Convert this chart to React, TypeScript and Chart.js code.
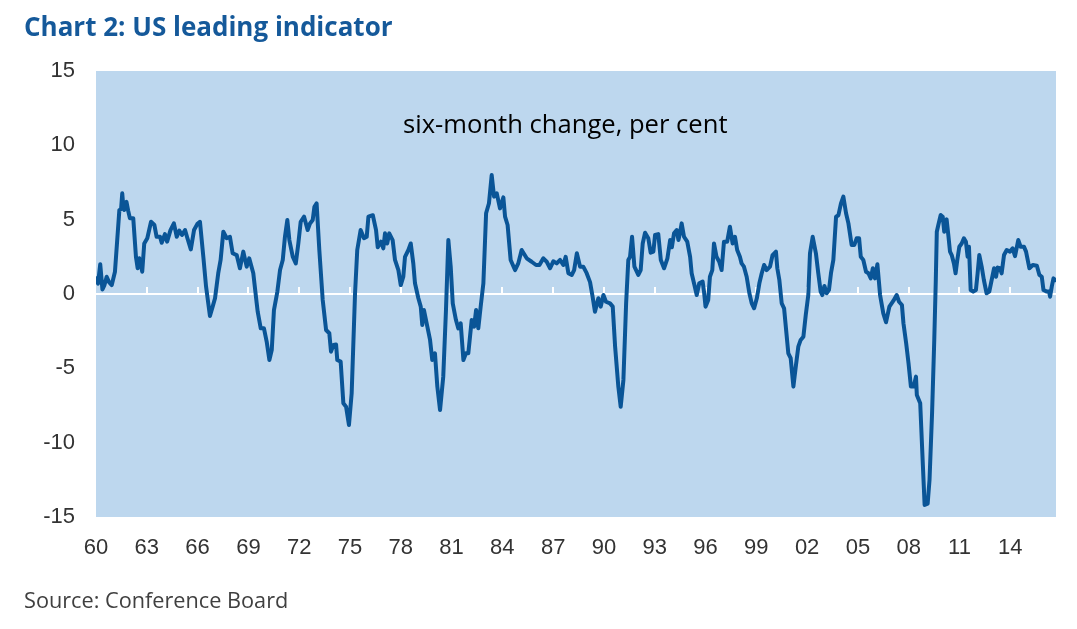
import React, { useEffect, useRef } from "react";
import { Chart, registerables } from "chart.js";

Chart.register(...registerables);

// ---- Data ----
const titleText = "Chart 2: US leading indicator";
const sourceText = "Source: Conference Board";
const noteText = "six-month change, per cent";

const tickYears = [1960, 1963, 1966, 1969, 1972, 1975, 1978, 1981, 1984, 1987, 1990, 1993, 1996, 1999, 2002, 2005, 2008, 2011, 2014];
const yTicks = [-15, -10, -5, 0, 5, 10, 15];

const dates = [
  1960.0, 1960.12, 1960.25, 1960.38, 1960.5, 1960.63, 1960.77, 1960.93, 1961.12, 1961.38, 1961.48, 1961.55, 1961.62, 1961.67, 1961.8, 1961.9,
  1962.0, 1962.2, 1962.36, 1962.46, 1962.56, 1962.66, 1962.73, 1962.85, 1963.03, 1963.25, 1963.45, 1963.58, 1963.78, 1963.88, 1964.07, 1964.2,
  1964.4, 1964.6, 1964.77, 1964.92, 1965.08, 1965.26, 1965.4, 1965.6, 1965.79, 1965.98, 1966.14, 1966.34, 1966.5, 1966.73, 1966.89, 1967.03,
  1967.22, 1967.36, 1967.52, 1967.72, 1967.91, 1968.07, 1968.31, 1968.5, 1968.7, 1968.9, 1969.05, 1969.29, 1969.49, 1969.55, 1969.73, 1969.92,
  1970.08, 1970.24, 1970.38, 1970.51, 1970.71, 1970.87, 1971.03, 1971.16, 1971.3, 1971.42, 1971.62, 1971.8, 1971.95, 1972.09, 1972.29, 1972.5,
  1972.64, 1972.8, 1972.9, 1973.03, 1973.19, 1973.39, 1973.59, 1973.78, 1973.88, 1974.02, 1974.18, 1974.25, 1974.45, 1974.61, 1974.77, 1974.94,
  1975.1, 1975.3, 1975.43, 1975.63, 1975.83, 1975.99, 1976.09, 1976.35, 1976.54, 1976.64, 1976.83, 1976.97, 1977.07, 1977.2, 1977.32, 1977.52,
  1977.66, 1977.86, 1978.0, 1978.15, 1978.25, 1978.45, 1978.59, 1978.74, 1978.84, 1979.04, 1979.18, 1979.27, 1979.37, 1979.57, 1979.73, 1979.86,
  1980.02, 1980.16, 1980.32, 1980.51, 1980.67, 1980.81, 1980.95, 1981.07, 1981.26, 1981.4, 1981.54, 1981.7, 1981.85, 1981.99, 1982.19, 1982.33,
  1982.45, 1982.58, 1982.72, 1982.88, 1983.04, 1983.21, 1983.37, 1983.51, 1983.67, 1983.86, 1984.06, 1984.16, 1984.31, 1984.49, 1984.75, 1984.94,
  1985.14, 1985.44, 1985.73, 1985.99, 1986.19, 1986.42, 1986.62, 1986.82, 1987.01, 1987.21, 1987.41, 1987.6, 1987.74, 1987.9, 1988.1, 1988.24,
  1988.4, 1988.59, 1988.78, 1988.98, 1989.18, 1989.33, 1989.47, 1989.67, 1989.81, 1989.97, 1990.12, 1990.36, 1990.52, 1990.66, 1990.85, 1990.99,
  1991.15, 1991.31, 1991.44, 1991.54, 1991.66, 1991.8, 1992.03, 1992.17, 1992.29, 1992.43, 1992.62, 1992.76, 1992.92, 1993.02, 1993.21, 1993.36,
  1993.55, 1993.75, 1993.91, 1994.01, 1994.14, 1994.3, 1994.4, 1994.49, 1994.59, 1994.73, 1994.92, 1995.09, 1995.18, 1995.32, 1995.48, 1995.63,
  1995.83, 1995.91, 1996.0, 1996.16, 1996.26, 1996.4, 1996.5, 1996.65, 1996.81, 1996.95, 1997.09, 1997.28, 1997.44, 1997.6, 1997.74, 1997.87,
  1998.03, 1998.13, 1998.27, 1998.43, 1998.59, 1998.73, 1998.87, 1999.03, 1999.18, 1999.32, 1999.46, 1999.61, 1999.81, 1999.96, 2000.16, 2000.24,
  2000.36, 2000.5, 2000.64, 2000.76, 2000.89, 2001.03, 2001.19, 2001.33, 2001.48, 2001.62, 2001.78, 2001.92, 2002.07, 2002.17, 2002.33, 2002.52,
  2002.66, 2002.8, 2002.9, 2003.02, 2003.16, 2003.29, 2003.41, 2003.55, 2003.71, 2003.85, 2004.0, 2004.14, 2004.3, 2004.44, 2004.63, 2004.79,
  2004.93, 2005.07, 2005.17, 2005.32, 2005.48, 2005.62, 2005.76, 2005.88, 2006.01, 2006.15, 2006.31, 2006.5, 2006.66, 2006.86, 2007.1, 2007.29,
  2007.43, 2007.6, 2007.69, 2007.85, 2007.99, 2008.13, 2008.29, 2008.43, 2008.48, 2008.68, 2008.84, 2008.94, 2009.12, 2009.23, 2009.38, 2009.51,
  2009.6, 2009.66, 2009.75, 2009.89, 2010.01, 2010.1, 2010.24, 2010.34, 2010.44, 2010.54, 2010.67, 2010.77, 2010.87, 2010.99, 2011.13, 2011.26,
  2011.38, 2011.48, 2011.56, 2011.66, 2011.81, 2011.97, 2012.07, 2012.17, 2012.31, 2012.44, 2012.6, 2012.76, 2012.9, 2013.04, 2013.16, 2013.25,
  2013.39, 2013.49, 2013.63, 2013.79, 2013.98, 2014.14, 2014.28, 2014.47, 2014.61, 2014.81, 2014.93, 2015.13, 2015.33, 2015.57, 2015.72, 2015.86,
  2015.96, 2016.16, 2016.29, 2016.35, 2016.45, 2016.55, 2016.65,
];

const values = [
  1.05, 0.7, 2.0, 0.3, 0.6, 1.16, 0.8, 0.6, 1.5, 5.65, 5.7, 6.77, 5.8, 5.65, 6.2, 5.6,
  5.1, 5.1, 2.5, 1.73, 2.4, 1.9, 1.5, 3.4, 3.75, 4.86, 4.64, 3.85, 3.85, 3.45, 4.03, 3.52,
  4.3, 4.75, 3.85, 4.26, 3.97, 4.3, 3.75, 3.0, 4.3, 4.7, 4.86, 2.5, 0.5, -1.48, -0.85, -0.29,
  1.4, 2.29, 4.19, 3.75, 3.85, 2.74, 2.62, 1.73, 2.85, 1.84, 2.4, 1.4, -0.6, -1.19, -2.31, -2.31,
  -3.2, -4.44, -3.77, -1.08, 0.15, 1.61, 2.29, 3.85, 4.98, 3.63, 2.51, 2.06, 3.4, 4.86, 5.2, 4.3,
  4.75, 4.98, 5.87, 6.1, 2.96, -0.4, -2.42, -2.64, -3.88, -3.43, -3.4, -4.44, -4.55, -7.35, -7.58, -8.81,
  -6.68, 0.05, 2.96, 4.3, 3.75, 3.85, 5.2, 5.3, 4.3, 3.14, 3.52, 3.07, 4.08, 3.4, 4.08, 3.63,
  2.29, 1.61, 0.6, 1.16, 2.5, 2.96, 3.4, 2.06, 0.72, -0.29, -0.85, -2.08, -1.08, -2.2, -3.09, -4.44,
  -3.99, -6.23, -7.8, -5.56, -1.08, 3.63, 1.84, -0.63, -1.75, -2.31, -1.97, -4.44, -3.99, -3.99, -1.75, -2.2,
  -1.08, -2.31, -0.85, 0.72, 5.43, 6.1, 8.0, 6.55, 6.77, 5.76, 6.5, 5.2, 4.64, 2.29, 1.61, 2.06,
  2.96, 2.4, 2.17, 1.95, 1.95, 2.4, 2.17, 1.73, 2.2, 2.06, 2.29, 1.95, 2.5, 1.4, 1.28, 1.61,
  2.74, 1.84, 1.84, 1.4, 0.8, -0.18, -1.19, -0.29, -0.85, -0.07, -0.52, -0.63, -0.85, -3.54, -6.23, -7.58,
  -5.78, -0.63, 2.29, 2.5, 3.85, 1.84, 1.28, 1.61, 3.4, 4.12, 3.75, 2.78, 2.85, 3.97, 4.03, 2.29,
  1.73, 2.4, 3.63, 3.14, 4.08, 4.3, 3.63, 4.08, 4.75, 3.85, 3.52, 2.5, 1.4, 0.72, -0.07, 0.72,
  0.83, 0.16, -0.85, -0.4, 1.16, 1.61, 3.4, 2.5, 2.17, 1.61, 3.52, 3.52, 4.53, 3.4, 3.85, 2.96,
  2.5, 2.06, 1.84, 1.16, 0.05, -0.63, -0.96, -0.29, 0.72, 1.4, 1.95, 1.61, 1.84, 2.62, 2.85, 1.73,
  0.94, -0.63, -0.96, -2.42, -3.99, -4.32, -6.23, -4.89, -3.54, -3.09, -2.87, -1.41, -0.07, 2.74, 3.85, 2.74,
  1.4, 0.16, -0.07, 0.54, 0.05, 0.27, 1.4, 2.29, 5.2, 5.3, 6.1, 6.55, 5.43, 4.75, 3.3, 3.3,
  3.75, 3.75, 2.5, 2.29, 1.5, 1.4, 1.05, 1.73, 1.05, 2.0, -0.07, -1.3, -1.9, -0.85, -0.45, -0.07,
  -0.52, -0.74, -1.97, -3.32, -4.66, -6.23, -6.23, -5.56, -6.79, -7.35, -11.6, -14.19, -14.1, -12.5, -8.02, -3.09,
  0.9, 4.19, 4.64, 5.31, 5.2, 4.19, 5.02, 3.97, 2.85, 2.62, 2.06, 1.39, 2.29, 3.18, 3.4, 3.75,
  3.52, 2.51, 3.18, 0.27, 0.16, 0.27, 1.39, 2.62, 1.84, 0.94, 0.05, 0.16, 0.94, 1.73, 1.16, 1.78,
  1.73, 1.39, 2.62, 2.96, 2.85, 3.07, 2.55, 3.63, 3.18, 3.18, 2.85, 1.73, 1.95, 1.9, 1.28, 1.16,
  0.27, 0.16, 0.16, -0.18, 0.5, 1.05, 0.94,
];

const X_MIN = 1960;
const X_MAX = 2016.7;

const PLOT_BG = "#BDD7EE";
const LINE_COLOR = "#0A5597";
const TEXT_GREY = "#333333";

const plotBackground = {
  id: "plotBackground",
  beforeDraw(chart: any) {
    const { ctx, chartArea } = chart;
    ctx.save();
    ctx.fillStyle = PLOT_BG;
    ctx.fillRect(chartArea.left, chartArea.top, chartArea.right - chartArea.left, chartArea.bottom - chartArea.top);
    ctx.restore();
  },
};

const zeroTickMarks = {
  id: "zeroTickMarks",
  beforeDatasetsDraw(chart: any) {
    const { ctx } = chart;
    const xs = chart.scales.x;
    const ys = chart.scales.y;
    const y0 = ys.getPixelForValue(0);
    ctx.save();
    ctx.strokeStyle = "#ffffff";
    ctx.lineWidth = 2;
    ctx.beginPath();
    tickYears.forEach((yr) => {
      if (yr === X_MIN) return;
      const px = Math.round(xs.getPixelForValue(yr));
      ctx.moveTo(px, y0);
      ctx.lineTo(px, y0 - 7);
    });
    ctx.stroke();
    ctx.restore();
  },
};

function LeadingChart() {
  const ref = useRef<HTMLCanvasElement | null>(null);

  useEffect(() => {
    if (!ref.current) return;
    const chart = new Chart(ref.current, {
      type: "line",
      data: {
        datasets: [
          {
            data: dates.map((d, i) => ({ x: d, y: values[i] })),
            borderColor: LINE_COLOR,
            borderWidth: 4,
            pointRadius: 0,
            tension: 0,
            borderJoinStyle: "round",
            borderCapStyle: "round",
            fill: false,
          },
        ],
      },
      options: {
        animation: false,
        responsive: false,
        maintainAspectRatio: false,
        layout: { padding: { top: 71, right: 21, bottom: 42, left: 0 } },
        plugins: {
          legend: { display: false },
          tooltip: { enabled: false },
          title: { display: false },
        },
        scales: {
          x: {
            type: "linear",
            min: X_MIN,
            max: X_MAX,
            afterBuildTicks: (s: any) => {
              s.ticks = tickYears.map((v) => ({ value: v }));
            },
            afterFit: (s: any) => {
              s.height = 70;
            },
            grid: { display: false },
            border: { display: false },
            ticks: {
              padding: 10,
              autoSkip: false,
              maxRotation: 0,
              color: TEXT_GREY,
              font: { family: "'Liberation Sans', Arial, sans-serif", size: 22 },
              callback: (v: any) => String(Math.round(Number(v)) % 100).padStart(2, "0"),
            },
          },
          y: {
            min: -15,
            max: 15,
            afterBuildTicks: (s: any) => {
              s.ticks = yTicks.map((v) => ({ value: v }));
            },
            afterFit: (s: any) => {
              s.width = 96;
            },
            grid: {
              drawTicks: false,
              color: (c: any) => (c.tick && c.tick.value === 0 ? "#ffffff" : "rgba(0,0,0,0)"),
              lineWidth: 2,
            },
            border: { display: false },
            ticks: {
              padding: 21,
              color: TEXT_GREY,
              font: { family: "'Liberation Sans', Arial, sans-serif", size: 22 },
            },
          },
        },
      },
      plugins: [plotBackground, zeroTickMarks],
    });
    return () => chart.destroy();
  }, []);

  return <canvas ref={ref} width={1077} height={629} style={{ position: "absolute", left: 0, top: 0, width: 1077, height: 629 }} />;
}

export default function App() {
  return (
    <div style={{ position: "absolute", left: 0, top: 0, width: 1077, height: 629, background: "#ffffff", overflow: "hidden" }}>
      <LeadingChart />
      <div
        style={{
          position: "absolute",
          left: 24,
          top: 12.5,
          fontFamily: "'Open Sans', sans-serif",
          fontWeight: 700,
          fontSize: 26,
          lineHeight: "26px",
          color: "#15599A",
          whiteSpace: "nowrap",
        }}
      >
        {titleText}
      </div>
      <div
        style={{
          position: "absolute",
          left: 403,
          top: 110.5,
          fontFamily: "'Open Sans', sans-serif",
          fontSize: 25.6,
          lineHeight: "25.6px",
          color: "#000000",
          whiteSpace: "nowrap",
        }}
      >
        {noteText}
      </div>
      <div
        style={{
          position: "absolute",
          left: 24,
          top: 589,
          fontFamily: "'Open Sans', sans-serif",
          fontSize: 21.7,
          lineHeight: "21.7px",
          color: "#404040",
          whiteSpace: "nowrap",
        }}
      >
        {sourceText}
      </div>
    </div>
  );
}
